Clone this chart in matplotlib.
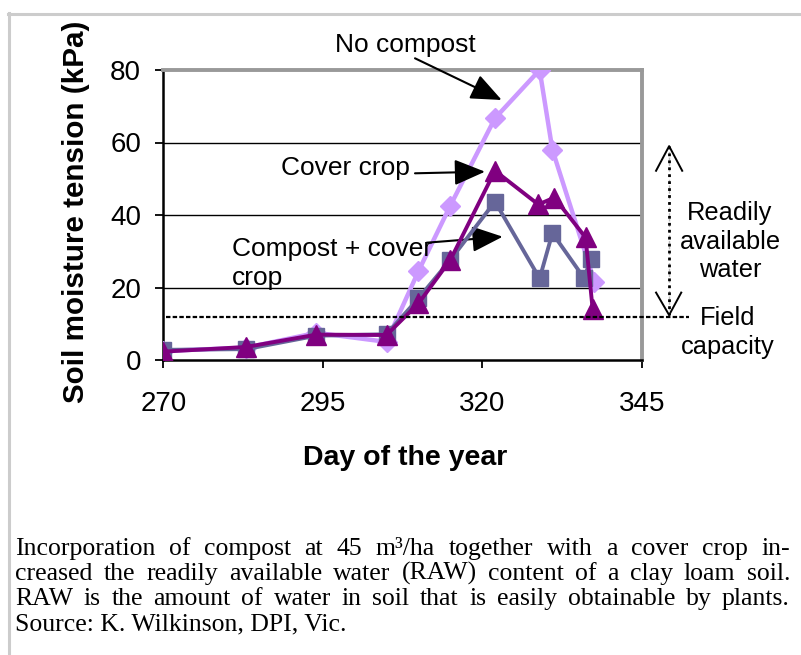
import matplotlib
matplotlib.use("Agg")
import matplotlib.pyplot as plt
from matplotlib.lines import Line2D

# ---------------- data ----------------
days_no_compost = [270, 283, 294, 305, 310, 315, 322, 329, 331, 337.6]
no_compost = [2.5, 3.4, 7.5, 5.0, 24.5, 42.6, 66.7, 80.0, 58.0, 21.6]

days_compost_cover = [270, 283, 294, 305, 310, 315, 322, 329, 331, 336, 337]
compost_cover = [2.8, 3.0, 6.7, 7.1, 17.0, 27.6, 43.7, 22.5, 35.0, 22.5, 28.0]

days_cover_crop = [270, 283, 294, 305, 310, 315, 322, 328.8, 331.3, 336.2, 337.3]
cover_crop = [2.3, 3.6, 7.0, 6.9, 15.6, 27.6, 52.2, 42.9, 44.8, 33.8, 14.2]

x_ticks = [270, 295, 320, 345]
y_ticks = [0, 20, 40, 60, 80]
field_capacity = 12

caption_lines = [
    "Incorporation of compost at 45 m\u00b3/ha together with a cover crop in-",
    "creased the readily available water (RAW) content of a clay loam soil.",
    "RAW is the amount of water in soil that is easily obtainable by plants.",
    "Source: K. Wilkinson, DPI, Vic.",
]

# ---------------- figure ----------------
W, H = 801, 655
plt.rcParams['font.family'] = ['Liberation Sans', 'DejaVu Sans']
fig = plt.figure(figsize=(W / 100, H / 100), dpi=100)

def fx(x):
    return x / W

def fy(y):
    return 1 - y / H

# page border (light grey)
fig.add_artist(Line2D([fx(8.5), fx(8.5)], [fy(13), fy(655)], color='#cccccc', lw=2.2))
fig.add_artist(Line2D([fx(7.5), fx(801)], [fy(13.5), fy(13.5)], color='#cccccc', lw=2.2))

ax_l, ax_r, ax_t, ax_b = 163.3, 641.7, 70, 360
ax = fig.add_axes([fx(ax_l), fy(ax_b), (ax_r - ax_l) / W, (ax_b - ax_t) / H])
ax.set_xlim(270, 345)
ax.set_ylim(0, 80)

for yv in [20, 40, 60]:
    ax.axhline(yv, color='black', lw=1.0, zorder=1)

ax.plot(days_no_compost, no_compost, color='#cc99ff', lw=3.2, marker='D',
        ms=10.5, mec='#cc99ff', zorder=3)
ax.plot(days_compost_cover, compost_cover, color='#666699', lw=2.8, marker='s',
        ms=12, mec='#666699', zorder=4)
ax.plot(days_cover_crop, cover_crop, color='#800080', lw=2.8, marker='^',
        ms=14, mec='#800080', zorder=5)

ax.set_xticks(x_ticks)
ax.set_yticks(y_ticks)
ax.tick_params(axis='both', direction='out', length=6, width=1.3, labelsize=20)
ax.tick_params(axis='y', pad=10)
ax.tick_params(axis='x', pad=16)

for s in ['left', 'bottom']:
    ax.spines[s].set_color('black')
    ax.spines[s].set_linewidth(1.8)
for s in ['top', 'right']:
    ax.spines[s].set_color('#999999')
    ax.spines[s].set_linewidth(2.8)

# field capacity dotted line (extends past the plot)
ax.plot([270.5, 352.4], [field_capacity, field_capacity], color='black', lw=1.6,
        ls=(0, (2, 1)), clip_on=False, zorder=6)

# readily-available-water double arrow (outside plot)
ax_x = 349.3
top_y, bot_y = 59.0, 12.4
ax.plot([ax_x, ax_x], [top_y, bot_y], color='#bbbbbb', lw=1.0, ls=(0, (2, 2)),
        clip_on=False, zorder=6)
ax.plot([ax_x, ax_x], [top_y, bot_y], color='black', lw=2.0, ls=(0, (1, 1.5)),
        clip_on=False, zorder=6)
ax.plot([ax_x - 2.05, ax_x, ax_x + 2.05], [top_y - 6.8, top_y, top_y - 6.8],
        color='black', lw=1.4, clip_on=False, zorder=6)
ax.plot([ax_x - 2.05, ax_x, ax_x + 1.9], [bot_y + 6.2, bot_y, bot_y + 6.2],
        color='black', lw=1.4, clip_on=False, zorder=6)

# axis labels
fig.text(fx(76), fy(212), "Soil moisture tension (kPa)", rotation=90,
         ha='center', va='center', fontsize=21.3, fontweight='bold')
fig.text(fx(405), fy(458), "Day of the year", ha='center', va='center',
         fontsize=20.5, fontweight='bold')

# side notes
fig.text(fx(730), fy(241.5), "Readily\navailable\nwater", ha='center', va='center',
         fontsize=18.3, linespacing=1.25)
fig.text(fx(728), fy(332.5), "Field\ncapacity", ha='center', va='center',
         fontsize=18.3, linespacing=1.25)

# annotations with arrows
arrow = dict(arrowstyle='-|>,head_length=1.9,head_width=0.8', lw=1.5,
             color='black', shrinkA=0, shrinkB=0)
fs_ann = 19
fig.text(fx(405), fy(45), "No compost", ha='center', va='center', fontsize=fs_ann)
ax.annotate("", xy=(501.7, H - 100), xytext=(415, H - 58.3),
            xycoords='figure pixels', textcoords='figure pixels', arrowprops=arrow)
fig.text(fx(345), fy(168.5), "Cover crop", ha='center', va='center', fontsize=fs_ann)
ax.annotate("", xy=(485, H - 171.7), xytext=(415, H - 173.3),
            xycoords='figure pixels', textcoords='figure pixels', arrowprops=arrow)
fig.text(fx(231.7), fy(249.3), "Compost + cover", ha='left', va='center', fontsize=fs_ann)
fig.text(fx(231.7), fy(278), "crop", ha='left', va='center', fontsize=fs_ann)
ax.annotate("", xy=(502.7, H - 236.7), xytext=(426.7, H - 242.7),
            xycoords='figure pixels', textcoords='figure pixels', arrowprops=arrow)

# justified caption
cap_x0, cap_x1 = 15, 790
baselines = [555, 580, 605, 630]
serif = ['Liberation Serif', 'DejaVu Serif']
renderer = fig.canvas.get_renderer()
probe = fig.text(0, 0, caption_lines[2], fontsize=20, family=serif)
nat = probe.get_window_extent(renderer).width
probe.remove()
cap_size = 20 * (cap_x1 - cap_x0) / nat * 0.93
cap_font = dict(family=serif, fontsize=cap_size)
for i, line in enumerate(caption_lines):
    yb = fy(baselines[i])
    if i == len(caption_lines) - 1:
        fig.text(fx(cap_x0), yb, line, ha='left', va='baseline', **cap_font)
        continue
    words = line.split(' ')
    objs = [fig.text(0, yb, w, ha='left', va='baseline', **cap_font) for w in words]
    widths = [o.get_window_extent(renderer).width for o in objs]
    gap = (cap_x1 - cap_x0 - sum(widths)) / (len(words) - 1)
    x = cap_x0
    for o, wdt in zip(objs, widths):
        o.set_x(fx(x))
        x += wdt + gap

fig.savefig("out.png", dpi=100)
